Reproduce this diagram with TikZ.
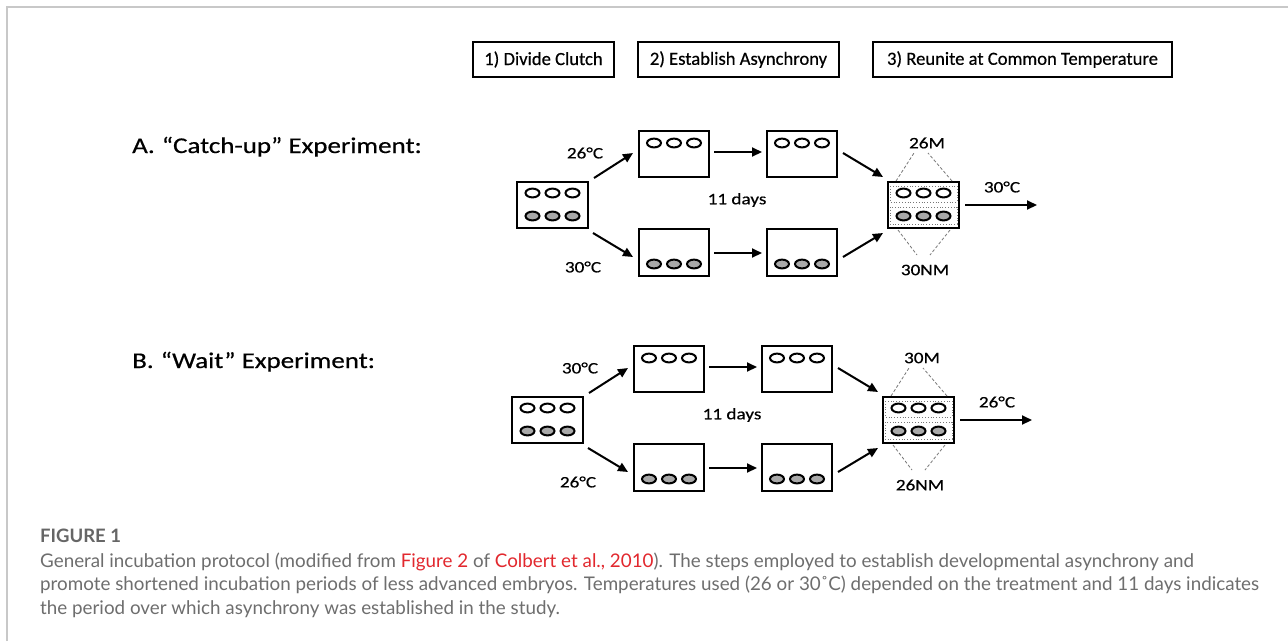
\documentclass[tikz,border=0pt]{standalone}
\usepackage{fontspec}
\usetikzlibrary{arrows.meta}
\newfontfamily\dfont[FakeStretch=1.2,FakeBold=0.5]{Carlito}
\newfontfamily\sfont[FakeBold=0.5]{Carlito}
\newfontfamily\capfont{Lato}
\definecolor{ovgray}{HTML}{A9A9A9}
\definecolor{capgray}{HTML}{6E6E6E}
\definecolor{figgray}{HTML}{666666}
\definecolor{capred}{HTML}{E2282E}
\definecolor{framegray}{HTML}{C8C8C8}
\definecolor{fangray}{HTML}{777777}
\tikzset{
 box/.style={draw, line width=2pt, minimum width=70pt, minimum height=46pt, inner sep=0pt},
 stepbox/.style={draw, line width=2.2pt, minimum height=35pt, inner sep=0pt, font=\sfont\fontsize{18.6}{20}\selectfont},
 ovw/.style={draw, line width=2pt, fill=white},
 ovg/.style={draw, line width=2pt, fill=ovgray},
 arr/.style={line width=2pt, -{Triangle[length=10pt,width=9pt]}},
 lbl/.style={font=\dfont\fontsize{16}{18}\selectfont, inner sep=0pt},
 ttl/.style={font=\dfont\fontsize{22.5}{26}\selectfont, inner sep=0pt, anchor=base west},
 fan/.style={draw=fangray, line width=0.8pt, dash pattern=on 3pt off 2pt},
 rowbox/.style={draw=fangray, line width=0.8pt, dotted},
 captext/.style={font=\capfont\fontsize{18.8}{22}\selectfont, text=capgray, inner sep=0pt, anchor=base west},
}
\newcommand\ovrow[3]{%
  \foreach \dx in {-20,0,20}{\path[#3] ([shift={(\dx,#2)}]#1.center) ellipse [x radius=7pt, y radius=4.4pt];}}
\newcommand\experiment[6]{%
  \node[box, minimum width=71pt] (c#1) at (552.5,205) {};
  \ovrow{c#1}{-12}{ovw}\ovrow{c#1}{11}{ovg}
  \node[box] (ua#1) at (674,154) {};
  \ovrow{ua#1}{-11}{ovw}
  \node[box, minimum height=47pt] (la#1) at (674,252.5) {};
  \ovrow{la#1}{11.5}{ovg}
  \node[box] (ub#1) at (802,154) {};
  \ovrow{ub#1}{-11}{ovw}
  \node[box, minimum height=47pt] (lb#1) at (802,252.5) {};
  \ovrow{lb#1}{11.5}{ovg}
  \node[box, minimum width=71pt] (r#1) at (923.5,205) {};
  \draw[rowbox] ([shift={(-33.5,-19)}]r#1.center) rectangle ([shift={(33.5,-3)}]r#1.center);
  \draw[rowbox] ([shift={(-33.5,2)}]r#1.center) rectangle ([shift={(33.5,19)}]r#1.center);
  \ovrow{r#1}{-12}{ovw}\ovrow{r#1}{11}{ovg}
  \node[lbl] (tt#1) at (585,153) {#2};
  \node[lbl] (tb#1) at (583,267) {#3};
  \node[lbl] (d#1) at (737,200) {11 days};
  \node[lbl] (ml#1) at (927,143) {#4};
  \node[lbl] (nl#1) at (925,270) {#5};
  \node[lbl] (ft#1) at (1002,187) {#6};
  \coordinate (o#1) at (1037,205);
  \draw[fan] ([shift={(-27.5,-24)}]r#1.center) -- ([shift={(-13,10)}]ml#1.center);
  \draw[fan] ([shift={(28.5,-24)}]r#1.center) -- ([shift={(1,10)}]ml#1.center);
  \draw[fan] ([shift={(-25.5,25)}]r#1.center) -- ([shift={(-8,-15)}]nl#1.center);
  \draw[fan] ([shift={(26.5,25)}]r#1.center) -- ([shift={(5,-15)}]nl#1.center);
  \draw[arr] ([shift={(5,-3)}]c#1.north east) -- ([shift={(-5,-1)}]ua#1.west);
  \draw[arr] ([shift={(4,4)}]c#1.south east) -- ([shift={(-5,4.5)}]la#1.west);
  \draw[arr] ([shift={(4,-2)}]ua#1.east) -- ([shift={(-4,-2)}]ub#1.west);
  \draw[arr] ([shift={(4,0.5)}]la#1.east) -- ([shift={(-4,0.5)}]lb#1.west);
  \draw[arr] ([shift={(5,-1)}]ub#1.east) -- ([shift={(-4,-4)}]r#1.north west);
  \draw[arr] ([shift={(5,4.5)}]lb#1.east) -- ([shift={(-4,4)}]r#1.south west);
  \draw[arr] ([xshift=5]r#1.east) -- (o#1);
}
\begin{document}
\begin{tikzpicture}[x=1pt,y=-1pt]
\useasboundingbox (0,0) rectangle (1288,641);
\fill[white] (0,0) rectangle (1288,641);
\draw[framegray, line width=1.5pt] (7,641) -- (7,7) -- (1288,7);
% step boxes
\node[stepbox, minimum width=141pt] (s1) at (543.5,59.5) {1) Divide Clutch};
\node[stepbox, minimum width=201pt] (s2) at (738.5,59.5) {2) Establish Asynchrony};
\node[stepbox, minimum width=299pt] (s3) at (1022.5,59.5) {3) Reunite at Common Temperature};
% titles
\node[ttl] (tA) at (132,153) {A.\hspace{7pt}“Catch-up” Experiment:};
\node[ttl] (tB) at (132,368) {B.\hspace{7pt}“Wait” Experiment:};
\begin{scope}
\experiment{A}{26°C}{30°C}{26M}{30NM}{30°C}
\end{scope}
\begin{scope}[shift={(-5,215)}]
\experiment{B}{30°C}{26°C}{30M}{26NM}{26°C}
\end{scope}
% caption
\node[captext, font=\capfont\bfseries\fontsize{18.5}{22}\selectfont, text=figgray] (fig) at (40,542) {FIGURE 1};
\node[captext] (l1) at (40,567) {General incubation protocol (modified from \textcolor{capred}{Figure 2} of \textcolor{capred}{Colbert et al., 2010}). The steps employed to establish developmental asynchrony and};
\node[captext] (l2) at (40,590) {promote shortened incubation periods of less advanced embryos. Temperatures used (26 or 30˚C) depended on the treatment and 11 days indicates};
\node[captext] (l3) at (40,614) {the period over which asynchrony was established in the study.};
\end{tikzpicture}
\end{document}
